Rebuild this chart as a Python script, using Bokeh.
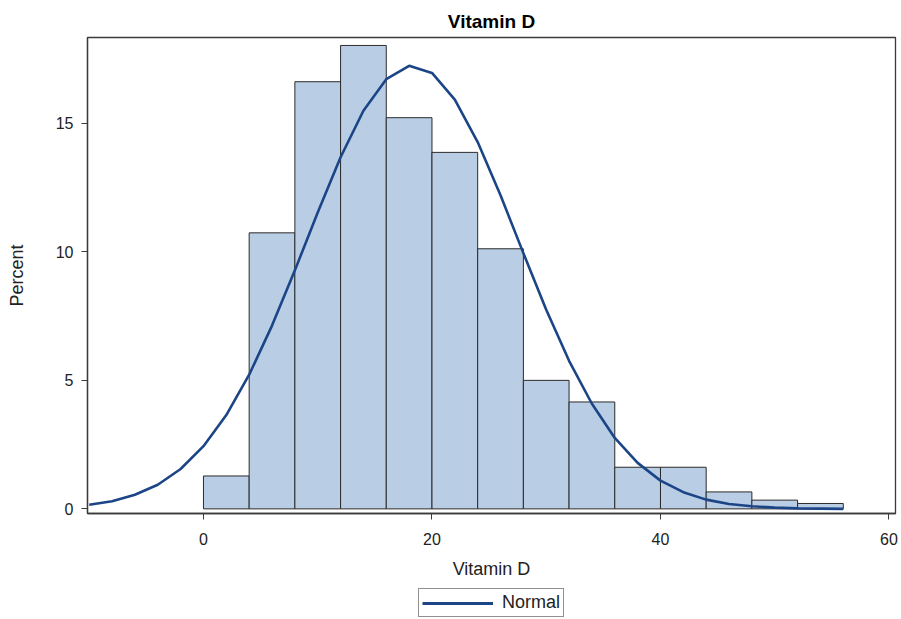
from bokeh.plotting import figure
from bokeh.layouts import column
from bokeh.models import FixedTicker, Legend, LegendItem, Range1d, Title
from bokeh.embed import file_html
from bokeh.resources import INLINE

# Histogram bins (Vitamin D) and percents
bin_edges = [0, 4, 8, 12, 16, 20, 24, 28, 32, 36, 40, 44, 48, 52, 56]
percent = [1.28, 10.74, 16.62, 18.03, 15.22, 13.87, 10.12, 5.00, 4.16, 1.62, 1.62, 0.66, 0.34, 0.21]

# Fitted normal curve
curve_x = [-10, -8, -6, -4, -2, 0, 2, 4, 6, 8, 10, 12, 14, 16, 18, 20, 22, 24, 26,
           28, 30, 32, 34, 36, 38, 40, 42, 44, 46, 48, 50, 52, 54, 56]
curve_y = [0.16, 0.30, 0.55, 0.94, 1.55, 2.44, 3.65, 5.22, 7.13, 9.28, 11.53, 13.68,
           15.49, 16.72, 17.24, 16.96, 15.92, 14.27, 12.20, 9.95, 7.75, 5.76, 4.09,
           2.76, 1.79, 1.10, 0.65, 0.36, 0.19, 0.10, 0.05, 0.02, 0.01, 0.00]

x_ticks = [0, 20, 40, 60]
y_ticks = [0, 5, 10, 15]

FONT = "Liberation Sans"
FRAME = "#3a3a3a"
CURVE = "#1c4587"

p = figure(width=901, height=586, output_backend="svg", toolbar_location=None,
           x_range=Range1d(-10.15, 60.57), y_range=Range1d(-0.18, 18.34),
           min_border_left=87, min_border_right=6, min_border_top=37, min_border_bottom=73)

p.title = Title(text="Vitamin D", align="center", text_font=FONT, text_font_size="19px",
                text_font_style="bold", text_color="#000000", standoff=12)

p.quad(left=bin_edges[:-1], right=bin_edges[1:], bottom=0, top=percent,
       fill_color="#b9cde5", line_color="#2b2b2b", line_width=1)

p.line(curve_x, curve_y, line_color=CURVE, line_width=2.6)

p.grid.visible = False
p.outline_line_color = FRAME
p.outline_line_width = 1.3
p.background_fill_color = "white"
p.border_fill_color = "white"

for ax in (p.xaxis[0], p.yaxis[0]):
    ax.axis_line_color = FRAME
    ax.axis_line_width = 1.3
    ax.major_tick_line_color = FRAME
    ax.major_tick_out = 6
    ax.major_tick_in = 0
    ax.minor_tick_line_color = None
    ax.major_label_text_font = FONT
    ax.major_label_text_font_size = "16px"
    ax.major_label_text_color = "#222222"
    ax.axis_label_text_font = FONT
    ax.axis_label_text_font_size = "18px"
    ax.axis_label_text_font_style = "normal"
    ax.axis_label_text_color = "#222222"

p.xaxis.ticker = FixedTicker(ticks=x_ticks)
p.yaxis.ticker = FixedTicker(ticks=y_ticks)
p.xaxis.axis_label = "Vitamin D"
p.yaxis.axis_label = "Percent"
p.xaxis.major_label_standoff = 13
p.xaxis.axis_label_standoff = 11
p.yaxis.major_label_standoff = 8
p.yaxis.axis_label_standoff = 26

# Legend strip below the chart (its view range lies away from the curve, so only the key shows)
leg = figure(width=901, height=33, output_backend="svg", toolbar_location=None,
             x_axis_type=None, y_axis_type=None, min_border=0,
             x_range=Range1d(100, 101), y_range=Range1d(100, 101))
leg.grid.visible = False
leg.outline_line_color = None
leg.border_fill_color = "white"
leg.background_fill_color = "white"
sample = leg.line(curve_x, curve_y, line_color=CURVE, line_width=3)
legend = Legend(items=[LegendItem(label="Normal", renderers=[sample])],
                orientation="horizontal", location=(331, 2),
                label_text_font=FONT, label_text_font_size="18px", label_text_color="#222222",
                border_line_color="#222222", border_line_width=1.2,
                background_fill_color="white",
                glyph_width=71, glyph_height=14, padding=3, spacing=0,
                margin=0, label_standoff=9, label_height=18)
leg.add_layout(legend)

open("out.html", "w").write(file_html(column(p, leg, spacing=0), INLINE))
